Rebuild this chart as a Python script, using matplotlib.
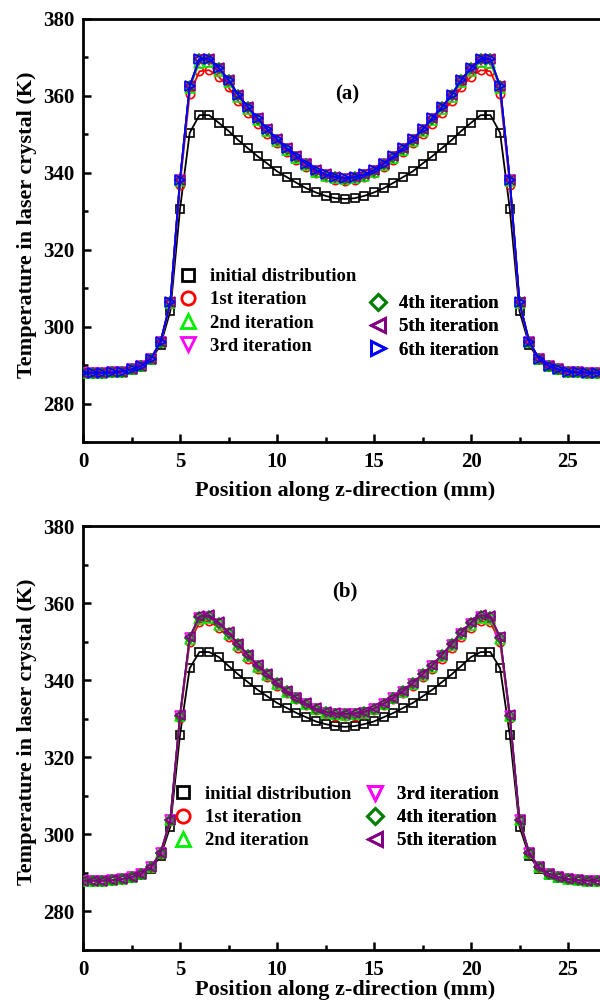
import matplotlib
matplotlib.use("Agg")
import matplotlib.pyplot as plt
from matplotlib.lines import Line2D
from matplotlib.ticker import MultipleLocator

plt.rcParams["font.family"] = ["Liberation Serif", "DejaVu Serif"]
plt.rcParams["font.weight"] = "bold"

# position along z (mm), one marker every 0.5 mm
z = [0.0, 0.5, 1.0, 1.5, 2.0, 2.5, 3.0, 3.5, 4.0, 4.5, 5.0, 5.5, 6.0, 6.5,
     7.0, 7.5, 8.0, 8.5, 9.0, 9.5, 10.0, 10.5, 11.0, 11.5, 12.0, 12.5, 13.0,
     13.5, 14.0, 14.5, 15.0, 15.5, 16.0, 16.5, 17.0, 17.5, 18.0, 18.5, 19.0,
     19.5, 20.0, 20.5, 21.0, 21.5, 22.0, 22.5, 23.0, 23.5, 24.0, 24.5, 25.0,
     25.5, 26.0, 26.5, 27.0]

# panel (a)
init_a = [288.0, 288.0, 288.0, 288.1, 288.3, 288.8, 289.6, 291.3, 295.3, 304.0, 330.6, 350.4, 355.0, 355.0,
          353.0, 350.9, 348.5, 346.4, 344.3, 342.4, 340.4, 338.9, 337.4, 336.0, 334.9, 334.0, 333.4, 333.2,
          333.4, 334.0, 334.9, 336.0, 337.4, 338.9, 340.4, 342.4, 344.3, 346.4, 348.5, 350.9, 353.0,
          355.0, 355.0, 350.4, 330.6, 304.0, 295.3, 291.3, 289.6, 288.8, 288.3, 288.1, 288.0, 288.0, 288.0]
it1_a = [288.0, 288.0, 288.0, 288.1, 288.3, 288.9, 289.7, 291.6, 295.9, 305.8, 336.9, 360.5, 366.4, 366.7,
         365.0, 362.2, 358.6, 355.6, 352.8, 350.1, 347.7, 345.5, 343.4, 341.4, 340.0, 338.9, 338.2, 338.0,
         338.2, 338.9, 340.0, 341.4, 343.4, 345.5, 347.7, 350.1, 352.8, 355.6, 358.6, 362.2, 365.0,
         366.7, 366.4, 360.5, 336.9, 305.8, 295.9, 291.6, 289.7, 288.9, 288.3, 288.1, 288.0, 288.0, 288.0]
it2_a = [288.0, 288.0, 288.0, 288.1, 288.3, 288.9, 289.8, 291.7, 296.0, 306.1, 337.8, 362.0, 368.6, 368.8,
         366.6, 363.6, 359.8, 356.6, 353.7, 350.9, 348.3, 346.0, 343.9, 342.0, 340.3, 339.2, 338.6, 338.3,
         338.6, 339.2, 340.3, 342.0, 343.9, 346.0, 348.3, 350.9, 353.7, 356.6, 359.8, 363.6, 366.6,
         368.8, 368.6, 362.0, 337.8, 306.1, 296.0, 291.7, 289.8, 288.9, 288.3, 288.1, 288.0, 288.0, 288.0]
it3_a = [288.0, 288.0, 288.0, 288.1, 288.3, 288.9, 289.8, 291.7, 296.1, 306.2, 338.1, 362.4, 369.3, 369.4,
         367.1, 364.0, 360.1, 356.9, 354.0, 351.1, 348.5, 346.2, 344.1, 342.2, 340.5, 339.4, 338.7, 338.4,
         338.7, 339.4, 340.5, 342.2, 344.1, 346.2, 348.5, 351.1, 354.0, 356.9, 360.1, 364.0, 367.1,
         369.4, 369.3, 362.4, 338.1, 306.2, 296.1, 291.7, 289.8, 288.9, 288.3, 288.1, 288.0, 288.0, 288.0]
it4_a = [288.0, 288.0, 288.0, 288.1, 288.3, 288.9, 289.8, 291.7, 296.1, 306.3, 338.2, 362.5, 369.5, 369.5,
         367.2, 364.1, 360.2, 357.0, 354.1, 351.2, 348.6, 346.3, 344.2, 342.3, 340.6, 339.5, 338.8, 338.5,
         338.8, 339.5, 340.6, 342.3, 344.2, 346.3, 348.6, 351.2, 354.1, 357.0, 360.2, 364.1, 367.2,
         369.5, 369.5, 362.5, 338.2, 306.3, 296.1, 291.7, 289.8, 288.9, 288.3, 288.1, 288.0, 288.0, 288.0]
it5_a = [288.0, 288.0, 288.0, 288.1, 288.3, 288.9, 289.8, 291.7, 296.1, 306.3, 338.2, 362.6, 369.6, 369.6,
         367.3, 364.2, 360.3, 357.1, 354.2, 351.3, 348.7, 346.4, 344.3, 342.4, 340.7, 339.6, 338.9, 338.6,
         338.9, 339.6, 340.7, 342.4, 344.3, 346.4, 348.7, 351.3, 354.2, 357.1, 360.3, 364.2, 367.3,
         369.6, 369.6, 362.6, 338.2, 306.3, 296.1, 291.7, 289.8, 288.9, 288.3, 288.1, 288.0, 288.0, 288.0]
it6_a = [288.0, 288.0, 288.0, 288.1, 288.3, 288.9, 289.8, 291.7, 296.1, 306.3, 338.2, 362.6, 369.6, 369.7,
         367.3, 364.2, 360.3, 357.1, 354.2, 351.3, 348.7, 346.4, 344.3, 342.4, 340.7, 339.6, 338.9, 338.6,
         338.9, 339.6, 340.7, 342.4, 344.3, 346.4, 348.7, 351.3, 354.2, 357.1, 360.3, 364.2, 367.3,
         369.7, 369.6, 362.6, 338.2, 306.3, 296.1, 291.7, 289.8, 288.9, 288.3, 288.1, 288.0, 288.0, 288.0]

# panel (b)
init_b = [288.0, 288.0, 288.0, 288.1, 288.3, 288.7, 289.5, 291.0, 294.4, 302.0, 325.8, 343.1, 347.3, 347.3,
          346.0, 343.7, 341.5, 339.5, 337.5, 335.8, 334.1, 332.8, 331.5, 330.4, 329.3, 328.6, 328.1, 327.9,
          328.1, 328.6, 329.3, 330.4, 331.5, 332.8, 334.1, 335.8, 337.5, 339.5, 341.5, 343.7, 346.0,
          347.3, 347.3, 343.1, 325.8, 302.0, 294.4, 291.0, 289.5, 288.7, 288.3, 288.1, 288.0, 288.0, 288.0]
it1_b = [288.0, 288.0, 288.0, 288.1, 288.4, 288.9, 289.7, 291.4, 295.0, 303.4, 330.2, 349.8, 355.0, 355.3,
         353.6, 351.2, 348.3, 345.6, 343.0, 340.8, 338.6, 336.6, 335.0, 333.5, 332.2, 331.3, 330.8, 330.7,
         330.8, 331.3, 332.2, 333.5, 335.0, 336.6, 338.6, 340.8, 343.0, 345.6, 348.3, 351.2, 353.6,
         355.3, 355.0, 349.8, 330.2, 303.4, 295.0, 291.4, 289.7, 288.9, 288.4, 288.1, 288.0, 288.0, 288.0]
it2_b = [288.0, 288.0, 288.0, 288.1, 288.4, 288.9, 289.8, 291.5, 295.1, 303.6, 330.6, 350.6, 355.9, 356.1,
         354.3, 351.9, 349.0, 346.2, 343.5, 341.3, 339.0, 337.0, 335.3, 333.8, 332.5, 331.6, 331.1, 331.0,
         331.1, 331.6, 332.5, 333.8, 335.3, 337.0, 339.0, 341.3, 343.5, 346.2, 349.0, 351.9, 354.3,
         356.1, 355.9, 350.6, 330.6, 303.6, 295.1, 291.5, 289.8, 288.9, 288.4, 288.1, 288.0, 288.0, 288.0]
it3_b = [288.0, 288.0, 288.0, 288.1, 288.4, 288.9, 289.8, 291.5, 295.2, 303.7, 330.7, 350.9, 356.2, 356.4,
         354.6, 352.1, 349.2, 346.4, 343.7, 341.4, 339.1, 337.0, 335.3, 333.8, 332.5, 331.6, 331.2, 331.1,
         331.2, 331.6, 332.5, 333.8, 335.3, 337.0, 339.1, 341.4, 343.7, 346.4, 349.2, 352.1, 354.6,
         356.4, 356.2, 350.9, 330.7, 303.7, 295.2, 291.5, 289.8, 288.9, 288.4, 288.1, 288.0, 288.0, 288.0]
it4_b = [288.0, 288.0, 288.0, 288.1, 288.4, 288.9, 289.8, 291.5, 295.2, 303.8, 330.8, 351.0, 356.4, 356.6,
         354.8, 352.3, 349.3, 346.5, 343.8, 341.5, 339.2, 337.1, 335.4, 333.9, 332.6, 331.7, 331.3, 331.2,
         331.3, 331.7, 332.6, 333.9, 335.4, 337.1, 339.2, 341.5, 343.8, 346.5, 349.3, 352.3, 354.8,
         356.6, 356.4, 351.0, 330.8, 303.8, 295.2, 291.5, 289.8, 288.9, 288.4, 288.1, 288.0, 288.0, 288.0]
it5_b = [288.0, 288.0, 288.0, 288.1, 288.4, 288.9, 289.8, 291.5, 295.2, 303.8, 330.9, 351.2, 356.6, 356.9,
         355.0, 352.5, 349.5, 346.6, 343.9, 341.6, 339.3, 337.2, 335.5, 334.0, 332.7, 331.8, 331.4, 331.3,
         331.4, 331.8, 332.7, 334.0, 335.5, 337.2, 339.3, 341.6, 343.9, 346.6, 349.5, 352.5, 355.0,
         356.9, 356.6, 351.2, 330.9, 303.8, 295.2, 291.5, 289.8, 288.9, 288.4, 288.1, 288.0, 288.0, 288.0]

labels = ["initial distribution", "1st iteration", "2nd iteration", "3rd iteration",
          "4th iteration", "5th iteration", "6th iteration"]
colors = ["black", "#ff0000", "#00ee00", "#ff00ff", "#008000", "#800080", "#0000ff"]
markers = ["s", "o", "^", "v", "D", "<", ">"]
msizes = [5.5, 6, 6.5, 6.5, 5, 6.5, 6.5]

series_a = [init_a, it1_a, it2_a, it3_a, it4_a, it5_a, it6_a]
series_b = [init_b, it1_b, it2_b, it3_b, it4_b, it5_b]

fig = plt.figure(figsize=(6.0, 10.05), dpi=100)
W, H = 600.0, 1005.0


def make_axes(top_px, bottom_px):
    left = 83 / W
    width = 27 * 19.4 / W
    ax = fig.add_axes([left, (H - bottom_px) / H, width, (bottom_px - top_px) / H])
    return ax


def style_axes(ax, xlab_y):
    ax.set_xlim(0, 27)
    ax.set_ylim(270, 380)
    ax.xaxis.set_major_locator(MultipleLocator(5))
    ax.xaxis.set_minor_locator(MultipleLocator(2.5))
    ax.yaxis.set_major_locator(MultipleLocator(20))
    ax.yaxis.set_minor_locator(MultipleLocator(10))
    ax.set_yticks([280, 300, 320, 340, 360, 380])
    ax.tick_params(which="both", direction="in", width=1.8, labelsize=15)
    ax.tick_params(which="major", length=6)
    ax.tick_params(which="minor", length=3.5)
    ax.tick_params(axis="x", pad=7)
    ax.tick_params(axis="y", pad=6)
    for sp in ax.spines.values():
        sp.set_linewidth(2.0)
    ax.spines["right"].set_visible(False)
    ax.set_xlabel("Position along z-direction (mm)", fontsize=16, fontweight="bold")
    ax.set_ylabel("Temperature in laser crystal (K)", fontsize=16, fontweight="bold")
    ax.xaxis.set_label_coords(0.5, xlab_y)
    ax.yaxis.set_label_coords(-0.088, 0.514)


def draw(ax, series):
    for i, y in enumerate(series):
        ax.plot(z, y, color=colors[i], lw=1.3, marker=markers[i], ms=msizes[i],
                mfc="none", mec=colors[i], mew=1.2, zorder=2 + i)


def legend_col(ax, idx, x, y):
    handles = [Line2D([], [], ls="none", marker=markers[i], color=colors[i], mfc="none",
                      mec=colors[i], mew=2.0, ms=msizes[i] * 1.6) for i in idx]
    leg = ax.legend(handles, [labels[i] for i in idx], loc="upper left",
                    bbox_to_anchor=(x, y), frameon=False, fontsize=13.5,
                    handlelength=0.8, handletextpad=0.75, labelspacing=0.32,
                    borderpad=0, borderaxespad=0)
    ax.add_artist(leg)


ax_a = make_axes(19, 442)
draw(ax_a, series_a)
style_axes(ax_a, -0.092)
ax_a.text(13.6, 360.3, "(a)", fontsize=15, fontweight="bold", ha="center", va="center")
legend_col(ax_a, [0, 1, 2, 3], 0.187, 0.411)
legend_col(ax_a, [4, 5, 6], 0.548, 0.347)

ax_b = make_axes(526, 950)
draw(ax_b, series_b)
style_axes(ax_b, -0.071)
ax_b.text(13.5, 362.9, "(b)", fontsize=15, fontweight="bold", ha="center", va="center")
legend_col(ax_b, [0, 1, 2], 0.1775, 0.387)
legend_col(ax_b, [3, 4, 5], 0.544, 0.3865)

fig.savefig("out.png", dpi=100)
